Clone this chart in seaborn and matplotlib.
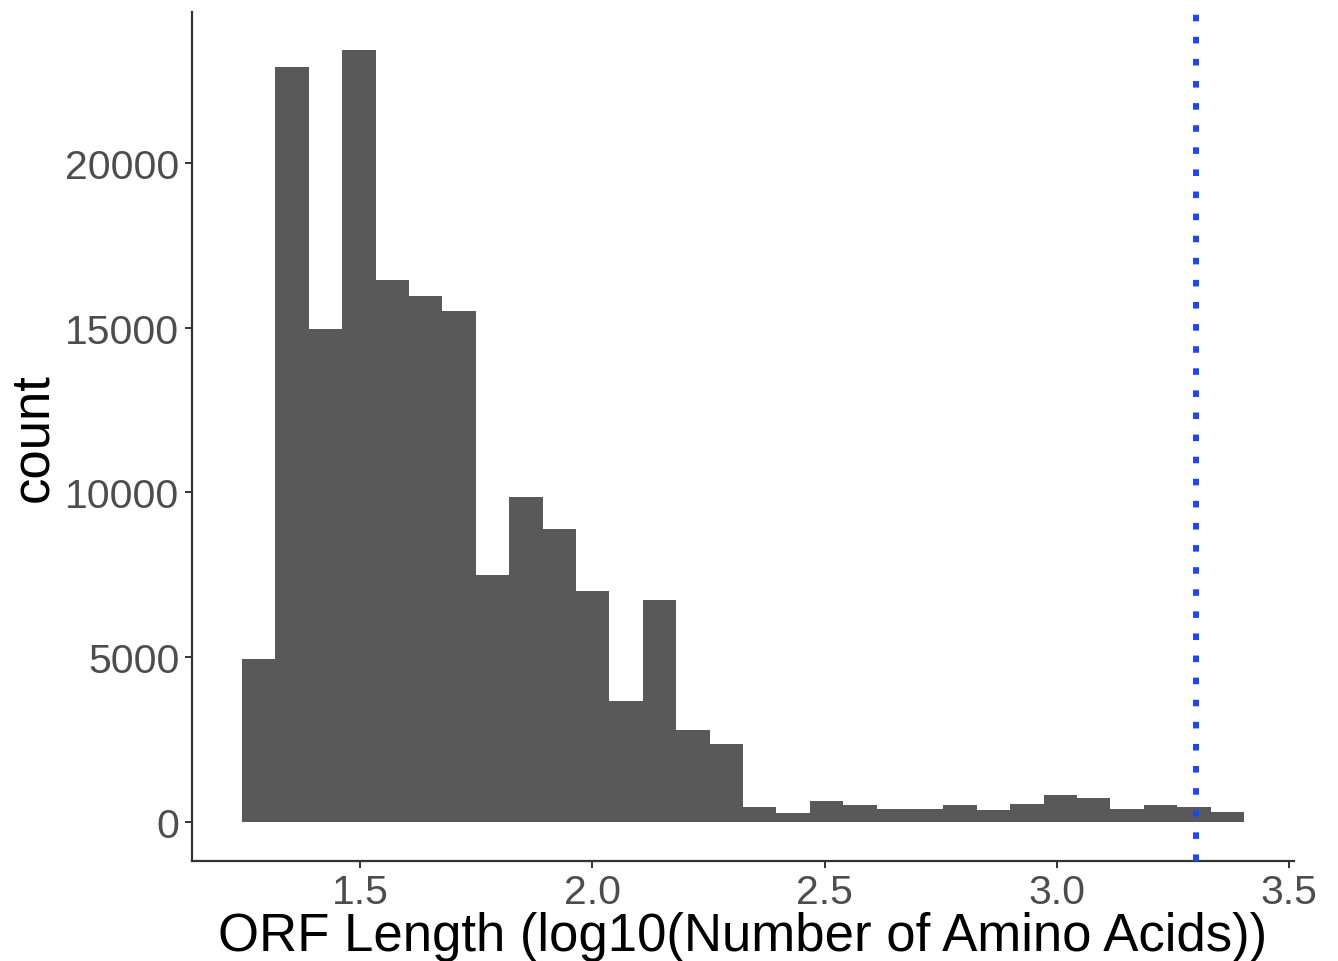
import numpy as np
import pandas as pd
import matplotlib
matplotlib.use("Agg")
import matplotlib.pyplot as plt
import seaborn as sns

# ---- data (30-bin histogram of log10 ORF lengths) ----
bin_start = 1.246
bin_width = 0.0719
counts = [4950, 22900, 14970, 23420, 16450, 15970, 15510, 7510, 9850, 8880,
          7000, 3670, 6730, 2790, 2360, 460, 275, 650, 505, 405,
          405, 505, 355, 555, 830, 730, 405, 505, 455, 305]
threshold = 3.30
x_ticks = [1.5, 2.0, 2.5, 3.0, 3.5]
y_ticks = [0, 5000, 10000, 15000, 20000]
x_title = "ORF Length (log10(Number of Amino Acids))"
y_title = "count"

edges = [bin_start + bin_width * i for i in range(len(counts) + 1)]
centers = [(edges[i] + edges[i + 1]) / 2 for i in range(len(counts))]
df = pd.DataFrame({"len": centers, "n": counts})

sns.set_theme(style="white")
plt.rcParams["font.family"] = ["Liberation Sans", "DejaVu Sans"]

fig = plt.figure(figsize=(13.38, 9.62), dpi=100)
ax_bottom_px = 861.6
ax_top_px = 12.7
ax_h_px = ax_bottom_px - ax_top_px
ax = fig.add_axes([192 / 1338, 1 - ax_bottom_px / 962, (1294 - 192) / 1338, ax_h_px / 962])

sns.histplot(data=df, x="len", weights="n", bins=edges, ax=ax,
             color="#595959", edgecolor="none", alpha=1, linewidth=0)
ax.axvline(threshold, color="#1f45fc", lw=4.3, linestyle=(0, (1.1, 2.6)), zorder=5)

lo, hi = edges[0], edges[-1]
pad = (hi - lo) * 0.05
ax.set_xlim(lo - pad, hi + pad)
ymax = max(counts)
ax.set_ylim(-ymax * 0.05, ymax * 1.05)

ax.set_xticks(x_ticks)
ax.set_xticklabels([f"{t:.1f}" for t in x_ticks])
ax.set_yticks(y_ticks)
ax.set_yticklabels([str(t) for t in y_ticks])

for s in ["top", "right"]:
    ax.spines[s].set_visible(False)
for s in ["left", "bottom"]:
    ax.spines[s].set_color("#333333")
    ax.spines[s].set_linewidth(1.6)

ax.tick_params(axis="both", which="major", length=5, width=1.4, color="#333333",
               labelsize=29.5, labelcolor="#4D4D4D", direction="out",
               left=True, bottom=True)
ax.tick_params(axis="x", pad=4)
ax.tick_params(axis="y", pad=4)

xl = ax.set_xlabel(x_title, fontsize=38, color="black")
xl.set_va("baseline")
ax.xaxis.set_label_coords(0.5, (ax_bottom_px - 951) / ax_h_px)
ax.set_ylabel(y_title, fontsize=38, color="black", labelpad=5)
ax.grid(False)

fig.savefig("out.png", dpi=100, facecolor="white")
